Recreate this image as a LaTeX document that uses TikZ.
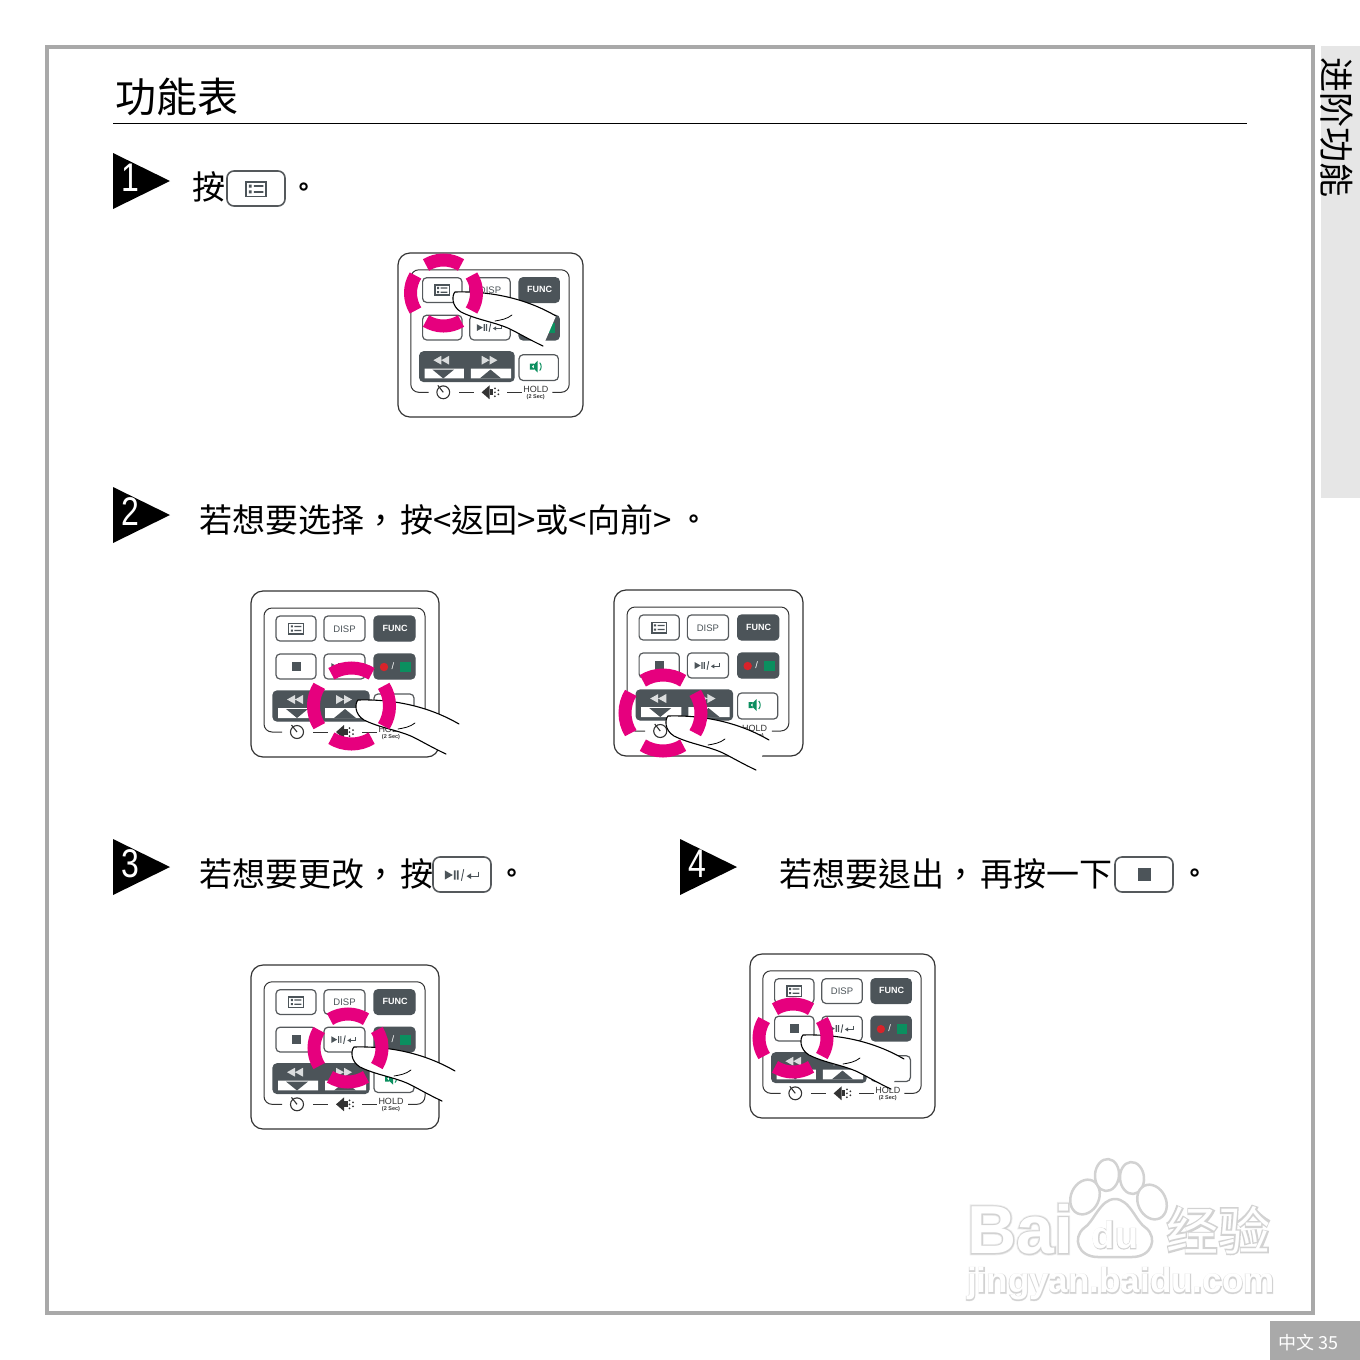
\documentclass[tikz,border=0pt]{standalone}
\usepackage{fontspec}
\setmainfont{Liberation Sans}
\newfontfamily\cjk{Noto Sans CJK TC}
\newfontfamily\wmhalo[FakeBold=6]{Liberation Sans Bold}
\newfontfamily\wmbold[FakeBold=3.5]{Liberation Sans Bold}
\newfontfamily\wmcjk[FakeBold=3]{Noto Sans CJK SC Bold}
\newfontfamily\wmcjkin{Noto Sans CJK SC}
\newcommand{\wcomma}{\char"FF0C\kern3pt\relax}
\definecolor{framegray}{HTML}{A9A9A9}
\definecolor{tabgray}{HTML}{E6E6E6}
\definecolor{ringpink}{HTML}{E6007E}
\definecolor{keydark}{HTML}{4C5459}
\definecolor{keyline}{HTML}{55595C}
\definecolor{keygreen}{HTML}{0B8F5F}
\definecolor{keyred}{HTML}{D8232A}
\definecolor{wmgray}{HTML}{D2D2D2}
\definecolor{wmsoft}{HTML}{EDEDED}
\tikzset{
    keybtn/.style={draw=keyline, line width=1.2pt, rounded corners=4pt, fill=white},
    darkbtn/.style={fill=keydark, draw=keydark, line width=1.2pt, rounded corners=4pt},
    capbtn/.style={draw=keyline, line width=1.6pt, rounded corners=7pt, fill=white},
    handline/.style={draw=black, line width=1.1pt, line cap=round},
    ringarc/.style={draw=ringpink, line width=13pt},
    bodytext/.style={anchor=west, inner sep=0pt, font=\cjk\fontsize{33}{36}\selectfont},
    dotmark/.style={inner sep=0pt, font=\cjk\bfseries\fontsize{25}{26}\selectfont},
    smallkey/.style={inner sep=0pt, font=\fontsize{9.5}{10}\selectfont},
    wmpaw/.style={draw=wmgray, fill=white, line width=2.5pt}
}
\newcommand{\listicon}[3]{
    \begin{scope}[shift={(#1,#2)}, scale=#3]
        \draw[keydark, line width=1.5pt] (-7,-5) rectangle (7,5);
        \fill[keydark] (-5,-3) rectangle (-3,-1) (-5,1) rectangle (-3,3);
        \fill[keydark] (-1.5,-2.6) rectangle (5,-1.4) (-1.5,1.4) rectangle (5,2.6);
    \end{scope}
}
\newcommand{\playicon}[3]{
    \begin{scope}[shift={(#1,#2)}, scale=#3]
        \fill[keydark] (-15,-4) -- (-8,0) -- (-15,4) -- cycle;
        \fill[keydark] (-7,-4) rectangle (-5.6,4) (-4.4,-4) rectangle (-3,4);
        \draw[keydark, line width=.9pt] (-.5,5) -- (1.5,-5);
        \draw[keydark, line width=.9pt] (14,-3) -- (14,1) -- (7,1);
        \fill[keydark] (4,1) -- (8,-1.5) -- (8,3.5) -- cycle;
    \end{scope}
}
\newcommand{\remote}[5]{
    \begin{scope}[shift={(#2,#3)}, xscale=#4, yscale=#5]
        \draw[draw=black!80, line width=1.2pt, rounded corners=12pt] (0,0) rectangle (188,166);
        \draw[draw=black!80, line width=1pt, rounded corners=8pt] (31,141) -- (13,141) -- (13,17) -- (174,17) -- (174,141) -- (157,141);
        \draw[draw=black!80, line width=1pt] (62,141) -- (77,141) (111,141) -- (126,141);
        \draw[keybtn] (25,25) rectangle (65,50);
        \draw[keybtn] (73,25) rectangle (114,50);
        \draw[darkbtn] (123,25) rectangle (164,50);
        \draw[keybtn] (25,63) rectangle (65,88);
        \draw[keybtn] (73,63) rectangle (114,88);
        \draw[darkbtn] (123,63) rectangle (164,88);
        \draw[darkbtn] (22,100) rectangle (118,130);
        \draw[keybtn] (123,103) rectangle (163,129);
        \listicon{45}{37.5}{1.05}
        \node[smallkey, text=keydark] (#1disp) at (93.5,38) {DISP};
        \node[smallkey, text=white, font=\bfseries\fontsize{9}{10}\selectfont] (#1func) at (144,37) {FUNC};
        \fill[keydark] (40.5,70.5) rectangle (50,80);
        \playicon{93}{75.5}{.85}
        \fill[keyred] (133,76) circle (4.2);
        \node[smallkey, text=white] (#1slash) at (142,75) {/};
        \fill[keygreen] (149,71) rectangle (160,81);
        \fill[white!80!keydark] (52,104) -- (44,108.5) -- (52,113) -- cycle (44,104) -- (36,108.5) -- (44,113) -- cycle;
        \fill[white!80!keydark] (85,104) -- (93,108.5) -- (85,113) -- cycle (93,104) -- (101,108.5) -- (93,113) -- cycle;
        \fill[white] (27,117) rectangle (67,127) (74,117) rectangle (115,127);
        \fill[keydark] (35,118) -- (57,118) -- (46,127) -- cycle;
        \fill[keydark] (83,127) -- (105,127) -- (94,118) -- cycle;
        \fill[keygreen] (134,112) rectangle (138,118) (136,115) -- (142,109) -- (142,121) -- cycle;
        \draw[keygreen, line width=1pt] (144,111) .. controls (146,113) and (146,117) .. (144,119);
        \draw[black!80, line width=1.1pt] (46,141) circle (6.5);
        \draw[black!80, line width=1.1pt] (46,141) -- (40.5,134);
        \fill[black!80] (85,141) -- (93,134) -- (93,148) -- cycle;
        \fill[black!80] (93,138) rectangle (97,144);
        \fill[black!80] (98.5,137) circle (1) (98.5,141) circle (1) (98.5,145) circle (1) (102,139) circle (1) (102,143) circle (1);
        \node[smallkey, text=black!80, font=\fontsize{9}{10}\selectfont] (#1hold) at (140,138.5) {HOLD};
        \node[inner sep=0pt, font=\bfseries\fontsize{5.5}{6}\selectfont, text=black!80] (#1sec) at (140,146) {(2 Sec)};
    \end{scope}
}
\newcommand{\handpath}{(101,24) .. controls (70,6) and (35,-1) .. (0,0) .. controls (-3,3) and (-4,14) .. (6,20) .. controls (22,28) and (40,30) .. (55,37) .. controls (65,42) and (75,48) .. (88,54)}
\newcommand{\hand}[2]{
    \begin{scope}[shift={(#1,#2)}]
        \fill[white] \handpath -- cycle;
        \draw[handline] \handpath;
        \draw[handline, line width=.8pt] (40,29) .. controls (46,28) and (52,27) .. (57,23);
    \end{scope}
}
\newcommand{\ring}[3]{
    \foreach \a in {0,90,180,270} {
        \draw[ringarc] (#1,#2) ++(\a-32:#3) arc[start angle=\a-32, end angle=\a+32, radius=#3];
    }
}
\newcommand{\stepmark}[4]{
    \fill[black] (#2,#3) -- (#2+57,#3+28) -- (#2,#3+56) -- cycle;
    \node[text=white, inner sep=0pt, xscale=.8, transform shape, font=\fontsize{40}{42}\selectfont] (#1) at (#2+17,#3+25) {#4};
}
\begin{document}
\begin{tikzpicture}[x=1pt, y=-1pt]
    \useasboundingbox (0,0) rectangle (1360,1360);

    \draw[framegray, line width=4pt] (46.5,46.5) rectangle (1313,1313);
    \fill[tabgray] (1321,46) rectangle (1360,498);
    \node[rotate=-90, anchor=west, inner sep=0pt, font=\cjk\fontsize{35}{36}\selectfont] (tabtitle) at (1337,57) {进阶功能};
    \fill[framegray] (1270,1321) rectangle (1360,1360);
    \node[anchor=west, inner sep=0pt, text=white, font=\cjk\fontsize{18}{20}\selectfont] (pagemark) at (1278,1343) {中文 35};

    \node[anchor=west, inner sep=0pt, font=\cjk\fontsize{41}{44}\selectfont] (title) at (115,97) {功能表};
    \draw[black, line width=1pt] (113,123.5) -- (1247,123.5);

    \stepmark{stepone}{113}{153}{1}
    \stepmark{steptwo}{113}{487}{2}
    \stepmark{stepthree}{113}{839}{3}
    \stepmark{stepfour}{680}{839}{4}

    \node[bodytext] (textone) at (192,187) {按};
    \draw[capbtn] (227,171) rectangle (285,206);
    \listicon{256}{189}{1.45}
    \node[dotmark] (dotone) at (304,190) {。};

    \node[bodytext] (texttwo) at (199,520) {若想要选择\wcomma 按<返回>或<向前>};
    \node[dotmark] (dottwo) at (694,522) {。};

    \node[bodytext] (textthree) at (199,874) {若想要更改\wcomma 按};
    \draw[capbtn] (433,857) rectangle (491,892);
    \playicon{462}{875}{1.15}
    \node[dotmark] (dotthree) at (512,876) {。};

    \node[bodytext] (textfour) at (779,874) {若想要退出\wcomma 再按一下};
    \draw[capbtn] (1115,857) rectangle (1173,892);
    \fill[keydark] (1138,868) rectangle (1151,881);
    \node[dotmark] (dotfour) at (1195,876) {。};

    \remote{pa}{398}{253}{.984}{.988}
    \hand{455}{292}
    \ring{443.5}{293}{33}

    \remote{pb}{251}{591}{1}{1}
    \hand{358}{700}
    \ring{351.5}{706}{38}

    \remote{pc}{614}{590}{1.005}{1}
    \hand{668}{716}
    \ring{663}{713}{38}

    \remote{pd}{251}{965}{1}{.988}
    \hand{354}{1047}
    \ring{348}{1048}{34}

    \remote{pe}{750}{954}{.984}{.988}
    \hand{803}{1035}
    \ring{793}{1038}{34}

    \node[anchor=west, inner sep=0pt, text=wmsoft, font=\wmhalo\fontsize{68}{70}\selectfont] (wmbaihalo) at (967,1229) {Bai};
    \node[anchor=west, inner sep=0pt, text=wmgray, font=\wmbold\fontsize{68}{70}\selectfont] (wmbai) at (967,1229) {Bai};
    \node[anchor=west, inner sep=0pt, text=white, font=\bfseries\fontsize{68}{70}\selectfont] (wmbaiin) at (967,1229) {Bai};
    \foreach \x/\y/\r/\s in {1085/1197/-25/14, 1107/1175/-5/12, 1132/1178/5/12, 1152/1202/25/14} {
        \draw[wmpaw, rotate around={\r:(\x,\y)}] (\x,\y) ellipse[x radius=\s, y radius=\s+4];
    }
    \draw[wmpaw] (1115,1199) .. controls (1130,1199) and (1136,1222) .. (1146,1228) .. controls (1158,1238) and (1152,1257) .. (1132,1257) -- (1098,1257) .. controls (1078,1257) and (1072,1238) .. (1084,1228) .. controls (1094,1222) and (1100,1199) .. (1115,1199) -- cycle;
    \node[inner sep=0pt, text=wmgray, font=\wmbold\fontsize{38}{40}\selectfont] (wmdu) at (1115,1235) {du};
    \node[inner sep=0pt, text=white, font=\bfseries\fontsize{38}{40}\selectfont] (wmduin) at (1115,1235) {du};
    \node[anchor=west, inner sep=0pt, text=wmgray, font=\wmcjk\fontsize{52}{54}\selectfont] (wmjy) at (1166,1230) {经验};
    \node[anchor=west, inner sep=0pt, text=white, font=\wmcjkin\fontsize{52}{54}\selectfont] (wmjyin) at (1166,1230) {经验};
    \node[anchor=west, inner sep=0pt, text=wmsoft, font=\wmhalo\fontsize{35}{38}\selectfont] (wmurlhalo) at (967,1284) {jingyan.baidu.com};
    \node[anchor=west, inner sep=0pt, text=wmgray, font=\wmbold\fontsize{35}{38}\selectfont] (wmurl) at (967,1284) {jingyan.baidu.com};
    \node[anchor=west, inner sep=0pt, text=white, font=\bfseries\fontsize{35}{38}\selectfont] (wmurlin) at (967,1284) {jingyan.baidu.com};
\end{tikzpicture}
\end{document}
